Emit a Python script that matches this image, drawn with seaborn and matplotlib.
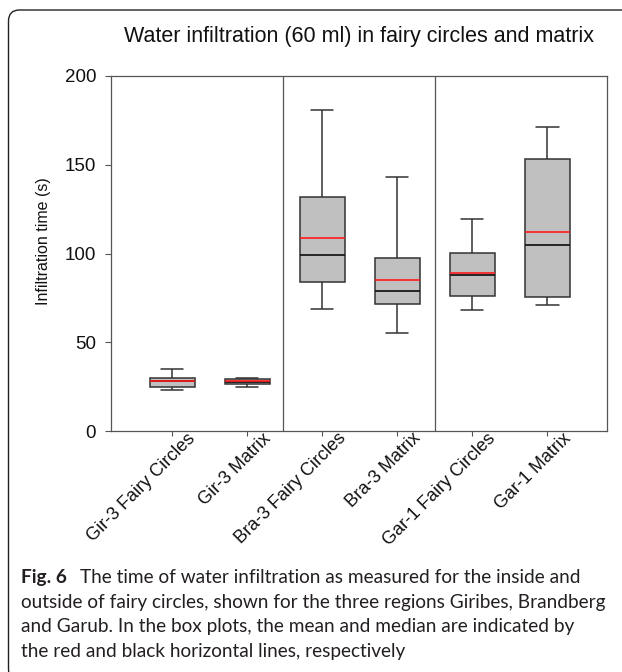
import numpy as np
import pandas as pd
import matplotlib
matplotlib.use("Agg")
import matplotlib.pyplot as plt
import matplotlib.transforms as mtransforms
from matplotlib.patches import FancyBboxPatch
import seaborn as sns

# ========= Data =========
sites = ["Gir-3 Fairy Circles", "Gir-3 Matrix", "Bra-3 Fairy Circles",
         "Bra-3 Matrix", "Gar-1 Fairy Circles", "Gar-1 Matrix"]
whisk_low = [22.9, 25.0, 68.9, 55.0, 68.0, 71.0]
q1 = [24.8, 26.3, 83.8, 71.4, 76.1, 75.7]
median = [28.0, 27.8, 99.0, 79.1, 87.9, 105.0]
q3 = [30.0, 29.1, 132.0, 97.5, 100.1, 153.1]
whisk_high = [35.1, 30.0, 181.0, 143.1, 119.3, 171.1]
mean = [28.0, 28.0, 108.6, 85.3, 89.2, 112.1]
yticks = [0, 50, 100, 150, 200]

title = "Water infiltration (60 ml) in fairy circles and matrix"
caption_lines = [
    "The time of water infiltration as measured for the inside and",
    "outside of fairy circles, shown for the three regions Giribes, Brandberg",
    "and Garub. In the box plots, the mean and median are indicated by",
    "the red and black horizontal lines, respectively",
]

# five-number summary per site -> long table for seaborn
rows = []
for i, s in enumerate(sites):
    for v in (whisk_low[i], q1[i], median[i], q3[i], whisk_high[i]):
        rows.append({"site": s, "time": v})
df = pd.DataFrame(rows)

# ========= Plot =========
sns.set_theme(style="ticks")
plt.rcParams["font.family"] = ["Liberation Sans", "DejaVu Sans"]

W, H = 622, 672
fig = plt.figure(figsize=(W / 100, H / 100), dpi=100)
ax = fig.add_axes([111 / W, 1 - 431 / H, 496 / W, 355 / H])

sns.boxplot(data=df, x="site", y="time", order=sites, width=0.6,
            whis=(0, 100), color="#c0c0c0", saturation=1,
            linecolor="#333333", linewidth=1.1,
            medianprops={"color": "#1a1a1a", "linewidth": 1.3}, ax=ax)

pos = np.arange(len(sites))
ax.hlines(mean, pos - 0.3, pos + 0.3, color="#ff1a1a", linewidth=1.2, zorder=5)

# region separators
for xs in (1.485, 3.5):
    ax.axvline(xs, color="#555555", linewidth=0.9, zorder=0)

ax.set_xlim(-0.813, 5.796)
ax.set_ylim(0, 200)
ax.set_yticks(yticks, labels=[str(t) for t in yticks], fontsize=13.5)
ax.set_xlabel("")
ax.set_ylabel("Infiltration time (s)", fontsize=11.5, color="#111111")
ax.yaxis.set_label_coords(-0.121, 0.534)

for sp in ax.spines.values():
    sp.set_visible(True)
    sp.set_color("#555555")
    sp.set_linewidth(0.9)

ax.tick_params(axis="y", direction="out", length=4.3, width=0.8, color="#555555",
               pad=6.5, labelcolor="#111111")
ax.tick_params(axis="x", direction="out", length=3.6, width=0.8, color="#555555",
               pad=0, labelcolor="#111111")
offset = mtransforms.ScaledTranslation(27 / 100, 6 / 100, fig.dpi_scale_trans)
for lab in ax.get_xticklabels():
    lab.set_rotation(45)
    lab.set_ha("right")
    lab.set_fontsize(13)
    lab.set_transform(lab.get_transform() + offset)

fig.text(359 / W, 1 - 42 / H, title, ha="center", va="baseline",
         fontsize=15.5, color="#111111")

# caption
cap_kw = dict(family=["Lato", "DejaVu Sans"], fontsize=13.7, color="#231f20", va="baseline")
fig_lbl = fig.text(21 / W, 1 - 583 / H, "Fig. 6", weight="bold", **cap_kw)
renderer = fig.canvas.get_renderer()
bb = fig_lbl.get_window_extent(renderer)
fig.text((bb.x1 + 13) / W, 1 - 583 / H, caption_lines[0], **cap_kw)
for k, line in enumerate(caption_lines[1:], 1):
    fig.text(21 / W, 1 - (583 + 24.7 * k) / H, line, **cap_kw)

# rounded frame around the figure
frame = FancyBboxPatch((0.085, -0.08), 6.6, 6.62 + 0.08,
                       boxstyle="round,pad=0,rounding_size=0.11",
                       transform=fig.dpi_scale_trans, fill=False,
                       edgecolor="#222222", linewidth=1.0, clip_on=False)
fig.patches.append(frame)

fig.savefig("out.png", dpi=100)
